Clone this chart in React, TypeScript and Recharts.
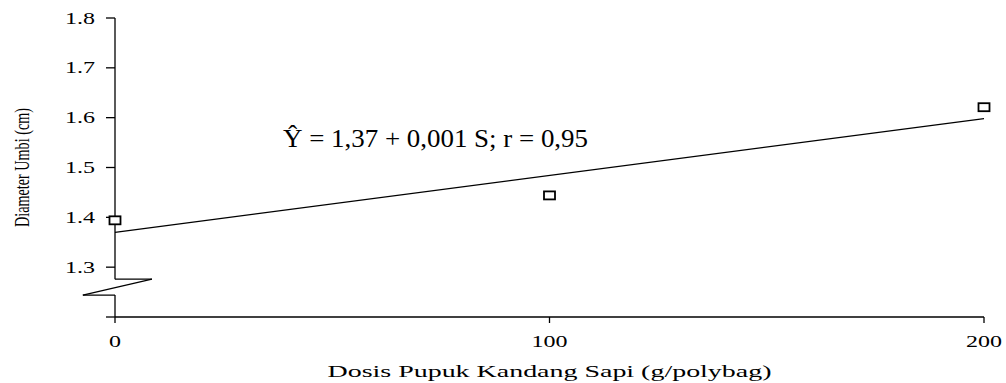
import React from 'react';
import { ComposedChart, Line, Scatter, XAxis, YAxis, ReferenceLine } from 'recharts';

const doses = [0, 100, 200];
const observed = [1.394, 1.444, 1.621];
const fitted = [1.37, null, 1.598];
const yTicks = [1.2, 1.3, 1.4, 1.5, 1.6, 1.7, 1.8];
const xTicks = [0, 100, 200];

const data = doses.map((d, i) => ({ x: d, obs: observed[i], fit: fitted[i] }));

const serif = '"Liberation Serif", "Times New Roman", serif';

const YTick = (props: any) => {
  const { x, y, payload } = props;
  if (payload.value === 1.2) return null;
  const label = payload.value.toFixed(1);
  return (
    <text x={x} y={y} dy={5.5} textAnchor="end" fontFamily={serif} fontSize={16} fill="#000"
      textLength={30} lengthAdjust="spacingAndGlyphs">
      {label}
    </text>
  );
};

const XTick = (props: any) => {
  const { x, y, payload } = props;
  const label = String(payload.value);
  return (
    <text x={x} y={y} dy={16} textAnchor="middle" fontFamily={serif} fontSize={16} fill="#000"
      textLength={label.length * 12} lengthAdjust="spacingAndGlyphs">
      {label}
    </text>
  );
};

const Box = (props: any) => {
  const { cx, cy } = props;
  return <rect x={cx - 5.5} y={cy - 4} width={11} height={8} fill="#fff" stroke="#000" strokeWidth={1.8} />;
};

const axisStroke = { stroke: '#000', strokeWidth: 1.3 };

const App: React.FC = () => {
  return (
    <div style={{ position: 'absolute', left: 0, top: 0, width: 1006, height: 383, background: '#fff' }}>
      <ComposedChart width={1006} height={383} data={data} margin={{ top: 18, right: 22, bottom: 0, left: 0 }}>
        <XAxis
          dataKey="x"
          type="number"
          domain={[0, 200]}
          ticks={xTicks}
          height={66}
          tickSize={6}
          tickMargin={8}
          axisLine={axisStroke}
          tickLine={axisStroke}
          tick={<XTick />}
          label={{
            content: (p: any) => {
              const vb = p.viewBox;
              return (
                <text x={vb.x + vb.width / 2} y={377} textAnchor="middle" fontFamily={serif} fontSize={16}
                  fill="#000" textLength={444} lengthAdjust="spacingAndGlyphs">
                  Dosis Pupuk Kandang Sapi (g/polybag)
                </text>
              );
            },
          }}
        />
        <YAxis
          type="number"
          domain={[1.2, 1.8]}
          ticks={yTicks}
          width={115}
          tickSize={9}
          tickMargin={11}
          axisLine={false}
          tickLine={axisStroke}
          tick={<YTick />}
          label={{
            content: (p: any) => {
              const vb = p.viewBox;
              const cy = vb.y + vb.height / 2;
              return (
                <text transform={`translate(29, ${cy}) rotate(-90)`} textAnchor="middle" fontFamily={serif}
                  fontSize={22} fill="#000" textLength={119} lengthAdjust="spacingAndGlyphs">
                  Diameter Umbi (cm)
                </text>
              );
            },
          }}
        />
        <ReferenceLine segment={[{ x: 0, y: 1.8 }, { x: 0, y: 1.276 }]} ifOverflow="visible" {...axisStroke} />
        <ReferenceLine segment={[{ x: 0, y: 1.276 }, { x: 8.5, y: 1.276 }]} ifOverflow="visible" {...axisStroke} />
        <ReferenceLine segment={[{ x: 8.5, y: 1.276 }, { x: -7.4, y: 1.244 }]} ifOverflow="visible" {...axisStroke} />
        <ReferenceLine segment={[{ x: -7.4, y: 1.244 }, { x: 0, y: 1.244 }]} ifOverflow="visible" {...axisStroke} />
        <ReferenceLine segment={[{ x: 0, y: 1.244 }, { x: 0, y: 1.2 }]} ifOverflow="visible" {...axisStroke} />
        <Line dataKey="fit" stroke="#000" strokeWidth={1.3} dot={false} connectNulls isAnimationActive={false} />
        <Scatter dataKey="obs" shape={<Box />} isAnimationActive={false} />
      </ComposedChart>
      <svg width={1006} height={383} style={{ position: 'absolute', left: 0, top: 0, pointerEvents: 'none' }}>
        <text x={283} y={147} fontFamily={serif} fontSize={25} fill="#000" textLength={305} lengthAdjust="spacingAndGlyphs">
          Ŷ = 1,37 + 0,001 S; r = 0,95
        </text>
      </svg>
    </div>
  );
};

export default App;
